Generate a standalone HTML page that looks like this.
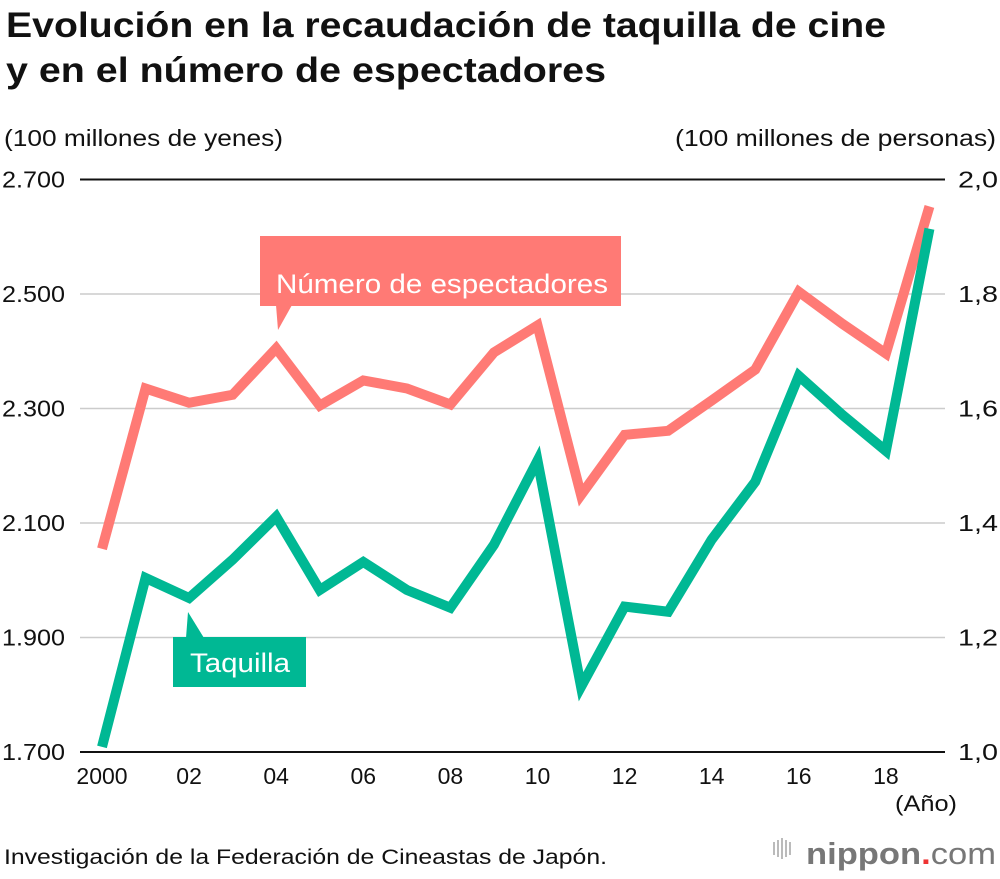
<!DOCTYPE html>
<html><head><meta charset="utf-8"><style>
body{margin:0;width:1000px;height:874px;background:#fff;overflow:hidden;font-family:"Liberation Sans",sans-serif;}
</style></head><body>
<svg id="c" width="1000" height="874" xmlns="http://www.w3.org/2000/svg">
<text x="6" y="37" font-size="35" font-weight="bold" fill="#111" textLength="880" lengthAdjust="spacingAndGlyphs">Evolución en la recaudación de taquilla de cine</text>
<text x="6" y="82" font-size="35" font-weight="bold" fill="#111" textLength="600" lengthAdjust="spacingAndGlyphs">y en el número de espectadores</text>
<text x="4" y="146" font-size="23" fill="#111" textLength="279" lengthAdjust="spacingAndGlyphs">(100 millones de yenes)</text>
<text x="675" y="146" font-size="23" fill="#111" textLength="321" lengthAdjust="spacingAndGlyphs">(100 millones de personas)</text>
<g id="grid"></g><g id="lines"></g>
<text x="895" y="811" font-size="22" fill="#111" textLength="62" lengthAdjust="spacingAndGlyphs">(Año)</text>
<text x="4" y="864" font-size="21" fill="#111" textLength="603" lengthAdjust="spacingAndGlyphs">Investigación de la Federación de Cineastas de Japón.</text>
<g>
<g fill="#bbb"><rect x="773" y="842" width="2" height="13"/><rect x="777" y="840" width="2" height="17"/><rect x="781" y="838" width="2" height="21"/><rect x="785" y="840" width="2" height="17"/><rect x="789" y="842" width="2" height="13"/></g>
<text x="806" y="864" font-size="31" fill="#777" font-weight="bold" textLength="190" lengthAdjust="spacingAndGlyphs">nippon<tspan fill="#e33">.</tspan><tspan font-weight="normal">com</tspan></text>
</g>
</svg>
<script>
const years=[2000,2001,2002,2003,2004,2005,2006,2007,2008,2009,2010,2011,2012,2013,2014,2015,2016,2017,2018,2019];
const taquilla=[1709,2004,1969,2036,2111,1983,2032,1983,1952,2062,2209,1814,1954,1945,2071,2172,2357,2289,2226,2614];
const espectadores=[1.355,1.635,1.610,1.624,1.705,1.605,1.649,1.635,1.607,1.698,1.745,1.449,1.554,1.561,1.614,1.668,1.804,1.748,1.696,1.953];
const leftTicks=[1700,1900,2100,2300,2500,2700];
const leftTickLabels=["1.700","1.900","2.100","2.300","2.500","2.700"];
const rightTickLabels=["1,0","1,2","1,4","1,6","1,8","2,0"];
const xTickYears=[2000,2002,2004,2006,2008,2010,2012,2014,2016,2018];
const xTickLabels=["2000","02","04","06","08","10","12","14","16","18"];
const NS="http://www.w3.org/2000/svg";
const xS=y=>102+(y-2000)*43.55;
const yL=v=>752-(v-1700)*0.5725;
const yR=v=>752-(v-1.0)*572.5;
function mk(t,a,p){const e=document.createElementNS(NS,t);for(const k in a)e.setAttribute(k,a[k]);p.appendChild(e);return e;}
const g=document.getElementById('grid'),L=document.getElementById('lines');
leftTicks.forEach((v,i)=>{
 const ln=mk('line',{x1:80,x2:945,y1:yL(v),y2:yL(v),stroke:i==0||i==5?'#111':'#ccc','stroke-width':i==0||i==5?2:1.5},g);
 
 
 const t=mk('text',{x:2,y:yL(v)+8,'font-size':23,fill:'#111',textLength:63,lengthAdjust:'spacingAndGlyphs'},g);t.textContent=leftTickLabels[i];
 
 
 const r=mk('text',{x:958,y:yL(v)+8,'font-size':23,fill:'#111',textLength:40,lengthAdjust:'spacingAndGlyphs'},g);r.textContent=rightTickLabels[i];
 
 
});
xTickYears.forEach((y,i)=>{
 const t=mk('text',{x:xS(y),y:784,'font-size':23,fill:'#111','text-anchor':'middle'},g);t.textContent=xTickLabels[i];
 
 
});
const pr=mk('polyline',{points:years.map((y,i)=>xS(y)+','+yR(espectadores[i])).join(' '),fill:'none',stroke:'#FF7A75','stroke-width':10,'stroke-linejoin':'miter'},L);


const pg=mk('polyline',{points:years.map((y,i)=>xS(y)+','+yL(taquilla[i])).join(' '),fill:'none',stroke:'#00B894','stroke-width':10,'stroke-linejoin':'miter'},L);


const lr=mk('g',{},L);


mk('rect',{x:260,y:236,width:361,height:70,fill:'#FF7A75'},lr);
mk('polygon',{points:'276,305 292,305 278,330',fill:'#FF7A75'},lr);
const tr=mk('text',{x:276,y:293,'font-size':27,fill:'#fff',textLength:332,lengthAdjust:'spacingAndGlyphs'},lr);tr.textContent='Número de espectadores';
const lg=mk('g',{},L);


mk('rect',{x:173,y:637,width:133,height:50,fill:'#00B894'},lg);
mk('polygon',{points:'186,638 204,638 188,612',fill:'#00B894'},lg);
const tg=mk('text',{x:190,y:672,'font-size':27,fill:'#fff',textLength:100,lengthAdjust:'spacingAndGlyphs'},lg);tg.textContent='Taquilla';
</script>
</body></html>
